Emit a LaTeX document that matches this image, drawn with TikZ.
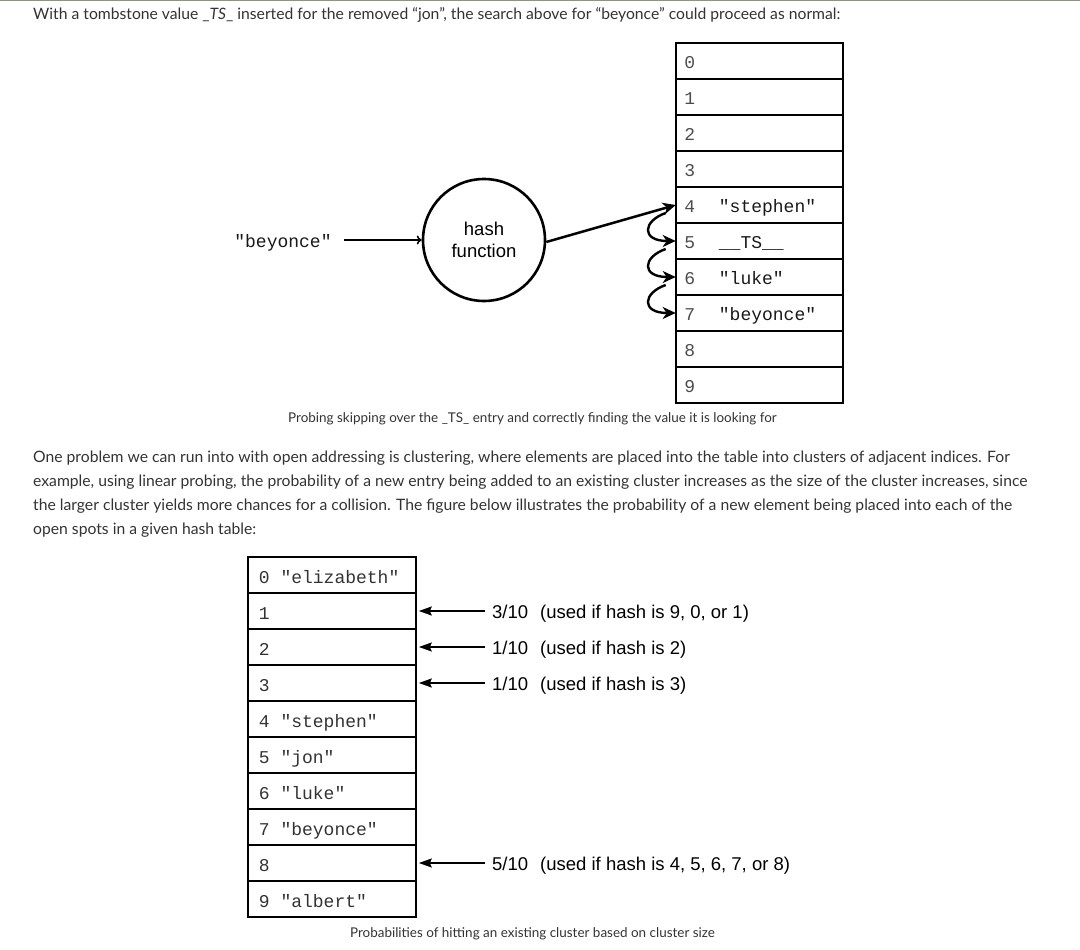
\documentclass[tikz,border=0pt]{standalone}
\usepackage{fontspec}
\setmainfont{Lato}
\newfontfamily\monofont{Liberation Mono}
\newfontfamily\arialfont{Liberation Sans}
\usetikzlibrary{arrows.meta}

\definecolor{bodytext}{HTML}{333333}
\definecolor{rulecol}{HTML}{8A9682}

\begin{document}
\begin{tikzpicture}[x=1pt,y=-1pt,
  cellT/.style={draw=black, line width=2.6pt, minimum width=167pt, minimum height=36pt, inner sep=0pt},
  cellB/.style={draw=black, line width=2.6pt, minimum width=168pt, minimum height=36pt, inner sep=0pt},
  idx/.style={font=\monofont\fontsize{18}{20}\selectfont, text=black!70, inner sep=0pt, anchor=mid},
  val/.style={font=\monofont\fontsize{18}{20}\selectfont, text=black!90, inner sep=0pt, anchor=mid west},
  body/.style={font=\fontsize{15.7}{19}\selectfont, text=bodytext, inner sep=0pt, anchor=mid west},
  capt/.style={font=\fontsize{13.45}{16}\selectfont, text=bodytext, inner sep=0pt, anchor=mid},
  lbl/.style={font=\arialfont\fontsize{18.5}{22}\selectfont, inner sep=0pt, anchor=mid west},
  probe/.style={line width=2.5pt, -{Stealth[length=13pt,width=12pt,inset=4pt]}},
  feed/.style={line width=1.6pt, -{To[length=5pt,width=9pt]}},
  chance/.style={line width=1.7pt, -{Stealth[length=13pt,width=9pt,inset=2pt]}}
]
\useasboundingbox (0,0) rectangle (1080,950);

% thin rule along the top edge
\draw[rulecol, line width=1.5pt] (0,0.75) -- (1080,0.75);

% opening sentence
\node[body] (intro) at (33,17) {With a tombstone value \_\textit{TS}\_ inserted for the removed “jon”, the search above for “beyonce” could proceed as normal:};

% ---------- upper table: probing past the tombstone ----------
\foreach \i in {0,...,9} {
  \node[cellT] (a\i) at (759.5,{61+36*\i}) {};
  \node[idx] (ai\i) at ([xshift=15pt,yshift=-5pt]a\i.west) {\i};
}
\node[val] (v4) at ([xshift=44pt,yshift=-5pt]a4.west) {"stephen"};
\node[val] (v5) at ([xshift=44pt,yshift=-5pt]a5.west) {\_\_TS\_\_};
\node[val] (v6) at ([xshift=44pt,yshift=-5pt]a6.west) {"luke"};
\node[val] (v7) at ([xshift=44pt,yshift=-5pt]a7.west) {"beyonce"};

% key and hash function
\node[font=\monofont\fontsize{18}{20}\selectfont, text=black!90, inner sep=0pt, anchor=mid] (key) at (283,245) {"beyonce"};
\node[circle, draw, line width=2.6pt, minimum size=122pt, inner sep=0pt, align=center,
      font=\arialfont\fontsize{18.5}{22}\selectfont] (hf) at (484,240) {hash\\function};

\coordinate (keyend) at ([xshift=12pt]key.east);
\draw[feed] (keyend |- hf.west) -- (hf.west);
\draw[probe] ([yshift=-2pt]hf.east) -- ([xshift=1pt]a4.west);

% linear probing hops 4 -> 5 -> 6 -> 7
\foreach \p/\q in {4/5,5/6,6/7} {
  \draw[probe, line width=2.4pt] ([xshift=-9pt,yshift=-8pt]a\p.west)
    .. controls ([xshift=-32pt,yshift=-16pt]a\p.west) and ([xshift=-34pt]a\q.west) .. ([xshift=1pt]a\q.west);
}

\node[capt] (cap1) at (532.5,420) {Probing skipping over the \_TS\_ entry and correctly finding the value it is looking for};

% ---------- paragraph ----------
\node[body] (p1) at (33,460) {One problem we can run into with open addressing is clustering, where elements are placed into the table into clusters of adjacent indices. For};
\node[body] (p2) at (33,484) {example, using linear probing, the probability of a new entry being added to an existing cluster increases as the size of the cluster increases, since};
\node[body] (p3) at (33,508) {the larger cluster yields more chances for a collision. The figure below illustrates the probability of a new element being placed into each of the};
\node[body] (p4) at (33,532) {open spots in a given hash table:};

% ---------- lower table: cluster probabilities ----------
\foreach \i/\t in {0/{0 "elizabeth"},1/{1},2/{2},3/{3},4/{4 "stephen"},5/{5 "jon"},6/{6 "luke"},7/{7 "beyonce"},8/{8},9/{9 "albert"}} {
  \node[cellB] (b\i) at (332,{575+36*\i}) {};
  \node[val, text=black!80] (bt\i) at ([xshift=12pt,yshift=-6pt]b\i.west) {\t};
}

\node[lbl] (l1) at (492,616) {3/10\hspace{0.65em}(used if hash is 9, 0, or 1)};
\node[lbl] (l2) at (492,652) {1/10\hspace{0.65em}(used if hash is 2)};
\node[lbl] (l3) at (492,688) {1/10\hspace{0.65em}(used if hash is 3)};
\node[lbl] (l8) at (492,868) {5/10\hspace{0.65em}(used if hash is 4, 5, 6, 7, or 8)};

\foreach \k in {1,2,3,8} {
  \coordinate (s\k) at ([xshift=-7pt]l\k.west);
  \draw[chance] (s\k |- b\k.east) -- ([xshift=1.5pt]b\k.east);
}

\node[capt] (cap2) at (532.5,935) {Probabilities of hitting an existing cluster based on cluster size};

\end{tikzpicture}
\end{document}
